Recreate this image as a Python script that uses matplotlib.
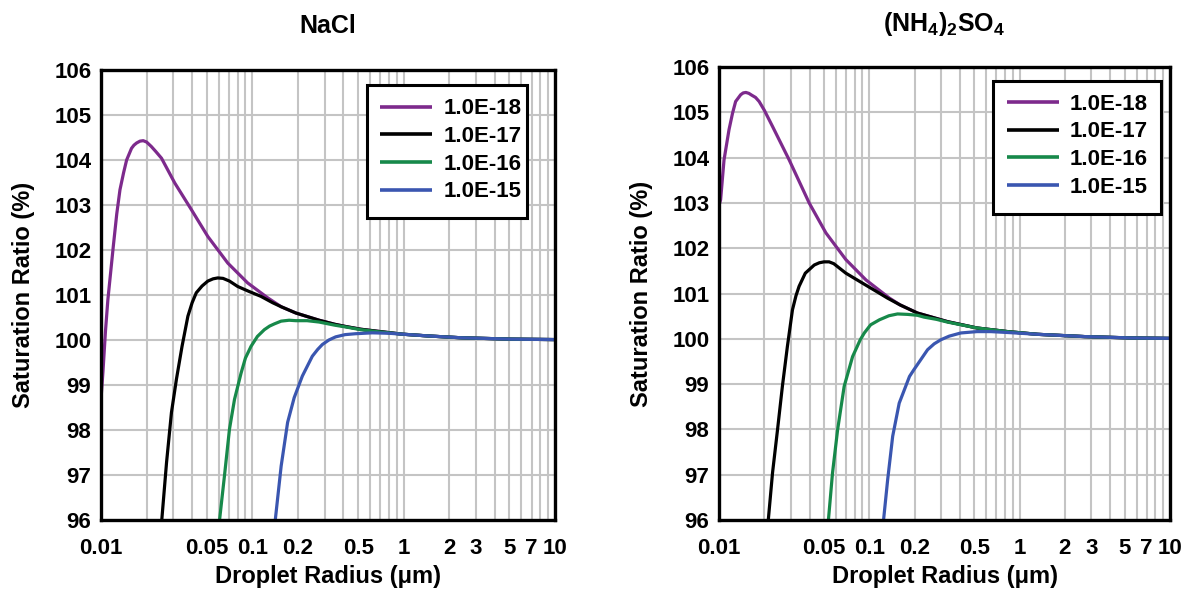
import matplotlib
matplotlib.use("Agg")
import matplotlib.pyplot as plt
from matplotlib.ticker import FixedLocator, FixedFormatter, NullFormatter
from matplotlib.patches import Rectangle

# ---------------- data ----------------
labels = ["1.0E-18", "1.0E-17", "1.0E-16", "1.0E-15"]
colors = ["#7d2a8c", "#000000", "#17894a", "#3a56b0"]

# NaCl panel
nacl_r_18 = [0.0100, 0.0103, 0.0107, 0.0111, 0.01205, 0.0127, 0.01334, 0.0141, 0.01476, 0.0159,
             0.0165, 0.0172, 0.0181, 0.0190, 0.0200, 0.0215, 0.0230, 0.0251, 0.0307, 0.0395,
             0.0508, 0.0688, 0.093, 0.126, 0.155, 0.194, 0.276, 0.35, 0.414, 0.52, 0.652,
             0.98, 1.46, 2.4, 5.1, 10.0]
nacl_s_18 = [98.7, 99.3, 100.2, 100.9, 102.08, 102.8, 103.34, 103.72, 104.0, 104.26,
             104.33, 104.38, 104.42, 104.43, 104.40, 104.3, 104.19, 104.04, 103.49, 102.90,
             102.30, 101.71, 101.27, 100.94, 100.74, 100.60, 100.44, 100.35, 100.30, 100.24, 100.20,
             100.13, 100.09, 100.05, 100.02, 100.01]

nacl_r_17 = [0.0252, 0.0271, 0.0292, 0.0315, 0.0343, 0.0375, 0.0400, 0.0426, 0.0465, 0.0508,
             0.0550, 0.0591, 0.0640, 0.0706, 0.080, 0.095, 0.114, 0.136, 0.155, 0.194, 0.276,
             0.35, 0.414, 0.52, 0.652, 0.98, 1.46, 2.4, 5.1, 10.0]
nacl_s_17 = [96.0, 97.28, 98.39, 99.13, 99.86, 100.53, 100.83, 101.05, 101.2, 101.31,
             101.36, 101.38, 101.37, 101.31, 101.19, 101.08, 100.97, 100.83, 100.74, 100.60, 100.44,
             100.35, 100.30, 100.24, 100.20, 100.13, 100.09, 100.05, 100.02, 100.01]

nacl_r_16 = [0.0607, 0.0654, 0.0706, 0.0762, 0.0843, 0.090, 0.098, 0.108, 0.12, 0.13, 0.14,
             0.155, 0.175, 0.194, 0.23, 0.276, 0.35, 0.414, 0.52, 0.652, 0.98, 1.46, 2.4,
             5.1, 10.0]
nacl_s_16 = [96.0, 96.98, 98.02, 98.68, 99.27, 99.6, 99.86, 100.08, 100.23, 100.31, 100.36,
             100.42, 100.44, 100.43, 100.43, 100.40, 100.33, 100.29, 100.23, 100.19, 100.13, 100.09, 100.05,
             100.02, 100.01]

nacl_r_15 = [0.1417, 0.155, 0.171, 0.189, 0.214, 0.249, 0.27, 0.29, 0.32, 0.355, 0.41, 0.48,
             0.62, 0.80, 0.98, 1.46, 2.4, 5.1, 10.0]
nacl_s_15 = [96.0, 97.2, 98.17, 98.72, 99.2, 99.64, 99.79, 99.90, 100.0, 100.07, 100.12, 100.14,
             100.16, 100.15, 100.13, 100.09, 100.05, 100.02, 100.01]

# (NH4)2SO4 panel
as_r_18 = [0.0100, 0.01025, 0.0108, 0.01166, 0.0123, 0.0129, 0.01394, 0.0145, 0.0151, 0.0158,
           0.0165, 0.0175, 0.0185, 0.0200, 0.0227, 0.0293, 0.0398, 0.0514, 0.0698, 0.095,
           0.136, 0.16, 0.209, 0.331, 0.52, 0.832, 1.32, 2.7, 5.5, 10.0]
as_s_18 = [102.95, 103.07, 103.95, 104.62, 104.98, 105.24, 105.39, 105.43, 105.44, 105.42,
           105.38, 105.33, 105.24, 105.05, 104.69, 103.95, 103.0, 102.34, 101.75, 101.30,
           100.90, 100.75, 100.57, 100.38, 100.24, 100.16, 100.10, 100.05, 100.02, 100.01]

as_r_17 = [0.0213, 0.0227, 0.0245, 0.0264, 0.0285, 0.0308, 0.0325, 0.0341, 0.0375, 0.0430,
           0.0465, 0.050, 0.054, 0.058, 0.0698, 0.085, 0.100, 0.115, 0.132, 0.16, 0.209,
           0.331, 0.52, 0.832, 1.32, 2.7, 5.5, 10.0]
as_s_17 = [96.02, 97.04, 97.99, 98.95, 99.83, 100.64, 100.95, 101.16, 101.45, 101.63,
           101.68, 101.70, 101.70, 101.66, 101.45, 101.28, 101.14, 101.02, 100.90, 100.75, 100.57,
           100.38, 100.24, 100.16, 100.10, 100.05, 100.02, 100.01]

as_r_16 = [0.0535, 0.0569, 0.0615, 0.068, 0.0774, 0.083, 0.087, 0.0926, 0.102, 0.1166, 0.135,
           0.154, 0.18, 0.209, 0.231, 0.28, 0.331, 0.52, 0.832, 1.32, 2.7, 5.5, 10.0]
as_s_16 = [96.02, 97.04, 97.99, 98.95, 99.61, 99.83, 99.98, 100.13, 100.31, 100.42, 100.51,
           100.55, 100.54, 100.52, 100.48, 100.43, 100.37, 100.24, 100.16, 100.10, 100.05, 100.02, 100.01]

as_r_15 = [0.1245, 0.1324, 0.143, 0.158, 0.185, 0.198, 0.244, 0.27, 0.299, 0.34, 0.406, 0.52,
           0.644, 0.832, 1.32, 2.7, 5.5, 10.0]
as_s_15 = [96.02, 96.89, 97.85, 98.58, 99.17, 99.32, 99.76, 99.89, 99.98, 100.06, 100.13, 100.16,
           100.16, 100.14, 100.10, 100.05, 100.02, 100.01]

titles = ["NaCl", "(NH$_\\mathbf{4}$)$_\\mathbf{2}$SO$_\\mathbf{4}$"]
xtick_vals = [0.01, 0.05, 0.1, 0.2, 0.5, 1, 2, 3, 5, 7, 10]
xtick_labels = ["0.01", "0.05", "0.1", "0.2", "0.5", "1", "2", "3", "5", "7", "10"]
ytick_vals = [96, 97, 98, 99, 100, 101, 102, 103, 104, 105, 106]
xlabel = "Droplet Radius (\u03bcm)"
ylabel = "Saturation Ratio (%)"

panels = [
    [(nacl_r_18, nacl_s_18), (nacl_r_17, nacl_s_17), (nacl_r_16, nacl_s_16), (nacl_r_15, nacl_s_15)],
    [(as_r_18, as_s_18), (as_r_17, as_s_17), (as_r_16, as_s_16), (as_r_15, as_s_15)],
]

# ---------------- drawing ----------------
plt.rcParams['font.family'] = ['Liberation Sans', 'DejaVu Sans']
plt.rcParams['font.weight'] = 'bold'
plt.rcParams['mathtext.fontset'] = 'custom'
plt.rcParams['mathtext.rm'] = 'Liberation Sans:bold'
plt.rcParams['mathtext.bf'] = 'Liberation Sans:bold'

fig = plt.figure(figsize=(11.9, 5.89), dpi=100)
axes_rects = [[0.0849, 0.1171, 0.3815, 0.764], [0.6042, 0.1171, 0.3790, 0.769]]
# legend box (axes fraction): x0, y0, w, h ; legend anchor (x, ytop)
legend_boxes = [(0.586, 0.671, 0.352, 0.296), (0.608, 0.675, 0.372, 0.294)]
legend_anchor = [(0.6145, 0.937), (0.638, 0.941)]
title_pads = [27, 26]

minor_vals = []
for dec in [0.01, 0.1, 1]:
    for m in range(2, 10):
        minor_vals.append(dec * m)

for i, rect in enumerate(axes_rects):
    ax = fig.add_axes(rect)
    for (r, s), lab, col in zip(panels[i], labels, colors):
        ax.plot(r, s, color=col, lw=2.3, label=lab, solid_joinstyle='round',
                solid_capstyle='butt', zorder=3)
    ax.set_xscale('log')
    ax.set_xlim(0.01, 10)
    ax.set_ylim(96, 106)
    ax.xaxis.set_major_locator(FixedLocator(xtick_vals))
    ax.xaxis.set_major_formatter(FixedFormatter(xtick_labels))
    ax.xaxis.set_minor_locator(FixedLocator(minor_vals))
    ax.xaxis.set_minor_formatter(NullFormatter())
    ax.set_yticks(ytick_vals)
    ax.grid(True, which='both', axis='x', color='#c4c4c4', lw=1.5, zorder=0)
    ax.grid(True, which='major', axis='y', color='#c4c4c4', lw=1.5, zorder=0)
    ax.tick_params(which='both', length=0, labelsize=16)
    ax.tick_params(axis='x', pad=13)
    ax.tick_params(axis='y', pad=7)
    for lab in ax.get_xticklabels() + ax.get_yticklabels():
        lab.set_fontweight('bold')
    for sp in ax.spines.values():
        sp.set_linewidth(2.4)
        sp.set_color('black')
        sp.set_zorder(5)
    ax.set_xlabel(xlabel, fontsize=17, fontweight='bold', labelpad=4)
    ax.set_ylabel(ylabel, fontsize=17, fontweight='bold', labelpad=14)
    ax.set_title(titles[i], fontsize=18, fontweight='bold', pad=title_pads[i])

    bx, by, bw, bh = legend_boxes[i]
    ax.add_patch(Rectangle((bx, by), bw, bh, transform=ax.transAxes, facecolor='white',
                           edgecolor='black', lw=2.2, zorder=6))
    leg = ax.legend(loc='upper left', bbox_to_anchor=legend_anchor[i], borderaxespad=0,
                    frameon=False, fontsize=16, borderpad=0,
                    handlelength=2.35, labelspacing=0.3, handletextpad=0.5)
    for line in leg.get_lines():
        line.set_linewidth(2.6)
    for t in leg.get_texts():
        t.set_fontweight('bold')
    leg.set_zorder(7)

fig.savefig("out.png", dpi=100)
